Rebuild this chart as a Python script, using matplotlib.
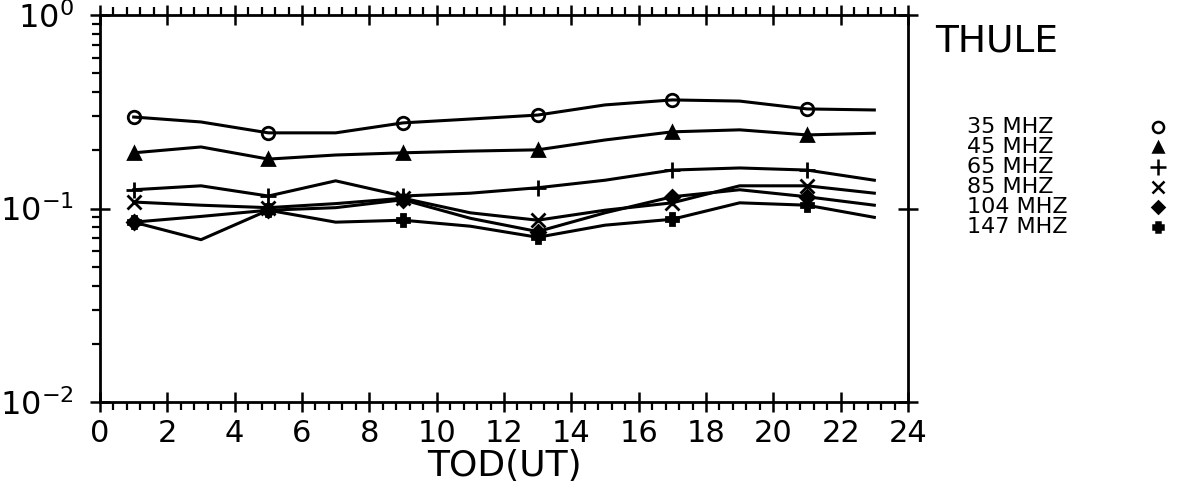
import numpy as np
import matplotlib
matplotlib.use('Agg')
import matplotlib.pyplot as plt
from matplotlib.ticker import MultipleLocator, AutoMinorLocator, LogLocator, NullFormatter

# hours (UT) and values
hours = [1, 3, 5, 7, 9, 11, 13, 15, 17, 19, 21, 23]
f35 = [0.297, 0.280, 0.246, 0.246, 0.277, 0.290, 0.304, 0.343, 0.364, 0.359, 0.327, 0.323]
f45 = [0.194, 0.208, 0.180, 0.189, 0.194, 0.198, 0.201, 0.226, 0.249, 0.255, 0.240, 0.245]
f65 = [0.125, 0.131, 0.116, 0.139, 0.116, 0.120, 0.128, 0.140, 0.158, 0.162, 0.158, 0.140]
f85 = [0.108, 0.104, 0.101, 0.106, 0.113, 0.095, 0.087, 0.098, 0.107, 0.131, 0.131, 0.120]
f104 = [0.085, 0.091, 0.098, 0.101, 0.111, 0.089, 0.076, 0.095, 0.115, 0.125, 0.115, 0.104]
f147 = [0.085, 0.069, 0.098, 0.085, 0.087, 0.081, 0.071, 0.082, 0.088, 0.107, 0.104, 0.090]

labels = ['35 MHZ', '45 MHZ', '65 MHZ', '85 MHZ', '104 MHZ', '147 MHZ']
series = [f35, f45, f65, f85, f104, f147]
markers = ['o', '^', '+', 'x', 'D', 'P']
fills = ['none', 'k', 'none', 'none', 'k', 'k']
sizes = [9, 8, 12, 10, 7, 8]

fig = plt.figure(figsize=(12.02, 4.93), dpi=100)
ax = fig.add_axes([100/1202, 1-402/493, 808/1202, 387/493])

for vals, m, fc, ms in zip(series, markers, fills, sizes):
    ax.plot(hours, vals, color='k', lw=2.2, marker=m, ms=ms, mfc=fc,
            mec='k', mew=2, markevery=2)

ax.set_yscale('log')
ax.set_ylim(0.01, 1)
ax.set_xlim(0, 24)

ax.xaxis.set_major_locator(MultipleLocator(2))
ax.xaxis.set_minor_locator(AutoMinorLocator(5))
ax.yaxis.set_major_locator(LogLocator(base=10))
ax.yaxis.set_minor_locator(LogLocator(base=10, subs=np.arange(2, 10)))
ax.yaxis.set_minor_formatter(NullFormatter())

ax.tick_params(which='major', direction='inout', length=14, width=1.8,
               top=True, bottom=True, left=True, right=True)
ax.tick_params(which='minor', direction='out', length=6, width=1.6,
               top=True, bottom=True, left=True, right=False)
ax.tick_params(axis='x', labelsize=22, pad=5)
ax.tick_params(axis='y', labelsize=23, pad=12)
for s in ax.spines.values():
    s.set_linewidth(2)

ax.set_xlabel('TOD(UT)', fontsize=26, labelpad=1)

# legend block on the right
fig.text(935/1202, 1-42/493, 'THULE', fontsize=27, va='center', ha='left')
for i, lab in enumerate(labels):
    yy = 1 - (127 + 20*i)/493
    fig.text(967/1202, yy, lab, fontsize=16, va='center', ha='left')
    fig.lines.append(plt.Line2D([1158/1202], [yy], transform=fig.transFigure,
                                marker=markers[i], ms=sizes[i]-1, mfc=fills[i],
                                mec='k', mew=1.8, ls='none', color='k'))

fig.savefig('out.png', dpi=100)
